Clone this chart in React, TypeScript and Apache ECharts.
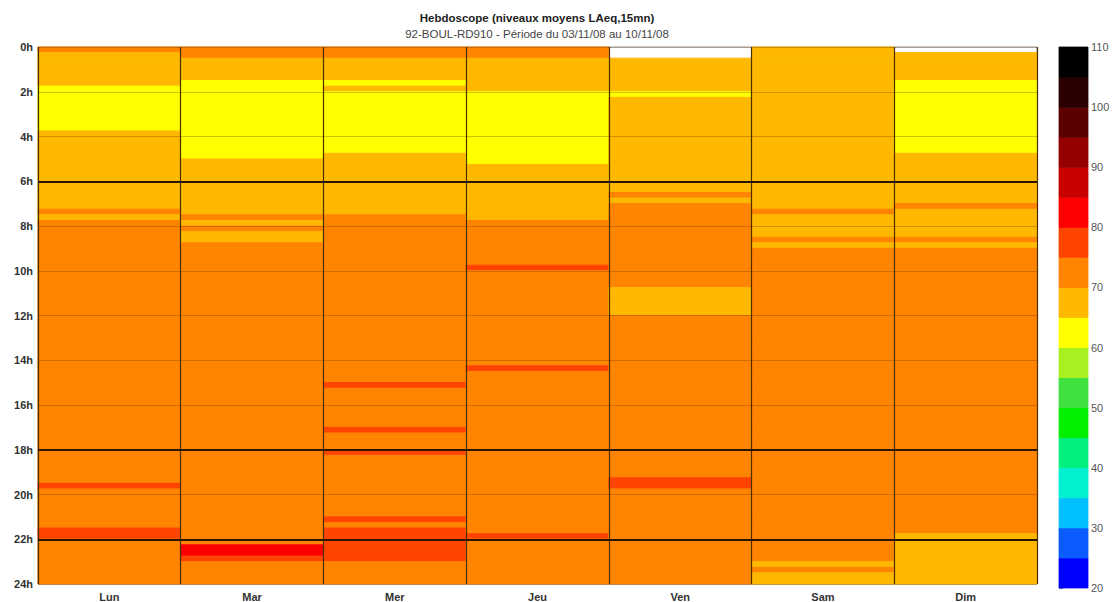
import React, { useEffect, useRef } from "react";
import * as echarts from "echarts";

const days = ["Lun", "Mar", "Mer", "Jeu", "Ven", "Sam", "Dim"];
const boldHours = [6, 18, 22];

// 15-minute LAeq levels, 96 slots per day (row = 4 hours)
const levelsLun = [
  72, 67, 67, 67, 67, 67, 67, 62, 62, 62, 62, 62, 62, 62, 62, 67,
  67, 67, 67, 67, 67, 67, 67, 67, 67, 67, 67, 67, 67, 72, 67, 72,
  72, 72, 72, 72, 72, 72, 72, 72, 72, 72, 72, 72, 72, 72, 72, 72,
  72, 72, 72, 72, 72, 72, 72, 72, 72, 72, 72, 72, 72, 72, 72, 72,
  72, 72, 72, 72, 72, 72, 72, 72, 72, 72, 72, 72, 72, 72, 77, 72,
  72, 72, 72, 72, 72, 72, 77, 77, 72, 72, 72, 72, 72, 72, 72, 72,
];
const levelsMar = [
  72, 72, 67, 67, 67, 67, 62, 62, 62, 62, 62, 62, 62, 62, 62, 62,
  62, 62, 62, 62, 67, 67, 67, 67, 67, 67, 67, 67, 67, 67, 72, 67,
  72, 67, 67, 72, 72, 72, 72, 72, 72, 72, 72, 72, 72, 72, 72, 72,
  72, 72, 72, 72, 72, 72, 72, 72, 72, 72, 72, 72, 72, 72, 72, 72,
  72, 72, 72, 72, 72, 72, 72, 72, 72, 72, 72, 72, 72, 72, 72, 72,
  72, 72, 72, 72, 72, 72, 72, 72, 72, 82, 82, 77, 72, 72, 72, 72,
];
const levelsMer = [
  72, 72, 67, 67, 67, 67, 62, 67, 62, 62, 62, 62, 62, 62, 62, 62,
  62, 62, 62, 67, 67, 67, 67, 67, 67, 67, 67, 67, 67, 67, 72, 72,
  72, 72, 72, 72, 72, 72, 72, 72, 72, 72, 72, 72, 72, 72, 72, 72,
  72, 72, 72, 72, 72, 72, 72, 72, 72, 72, 72, 72, 77, 72, 72, 72,
  72, 72, 72, 72, 77, 72, 72, 72, 77, 72, 72, 72, 72, 72, 72, 72,
  72, 72, 72, 72, 77, 72, 77, 77, 77, 77, 77, 77, 72, 72, 72, 72,
];
const levelsJeu = [
  72, 72, 67, 67, 67, 67, 67, 67, 62, 62, 62, 62, 62, 62, 62, 62,
  62, 62, 62, 62, 62, 67, 67, 67, 67, 67, 67, 67, 67, 67, 67, 72,
  72, 72, 72, 72, 72, 72, 72, 77, 72, 72, 72, 72, 72, 72, 72, 72,
  72, 72, 72, 72, 72, 72, 72, 72, 72, 77, 72, 72, 72, 72, 72, 72,
  72, 72, 72, 72, 72, 72, 72, 72, 72, 72, 72, 72, 72, 72, 72, 72,
  72, 72, 72, 72, 72, 72, 72, 77, 72, 72, 72, 72, 72, 72, 72, 72,
];
const levelsVen = [
  null, null, 67, 67, 67, 67, 67, 67, 62, 67, 67, 67, 67, 67, 67, 67,
  67, 67, 67, 67, 67, 67, 67, 67, 67, 67, 72, 67, 72, 72, 72, 72,
  72, 72, 72, 72, 72, 72, 72, 72, 72, 72, 72, 67, 67, 67, 67, 67,
  72, 72, 72, 72, 72, 72, 72, 72, 72, 72, 72, 72, 72, 72, 72, 72,
  72, 72, 72, 72, 72, 72, 72, 72, 72, 72, 72, 72, 72, 77, 77, 72,
  72, 72, 72, 72, 72, 72, 72, 72, 72, 72, 72, 72, 72, 72, 72, 72,
];
const levelsSam = [
  67, 67, 67, 67, 67, 67, 67, 67, 67, 67, 67, 67, 67, 67, 67, 67,
  67, 67, 67, 67, 67, 67, 67, 67, 67, 67, 67, 67, 67, 72, 67, 67,
  67, 67, 72, 67, 72, 72, 72, 72, 72, 72, 72, 72, 72, 72, 72, 72,
  72, 72, 72, 72, 72, 72, 72, 72, 72, 72, 72, 72, 72, 72, 72, 72,
  72, 72, 72, 72, 72, 72, 72, 72, 72, 72, 72, 72, 72, 72, 72, 72,
  72, 72, 72, 72, 72, 72, 72, 72, 72, 72, 72, 72, 67, 72, 67, 67,
];
const levelsDim = [
  null, 67, 67, 67, 67, 67, 62, 62, 62, 62, 62, 62, 62, 62, 62, 62,
  62, 62, 62, 67, 67, 67, 67, 67, 67, 67, 67, 67, 72, 67, 67, 67,
  67, 67, 72, 67, 72, 72, 72, 72, 72, 72, 72, 72, 72, 72, 72, 72,
  72, 72, 72, 72, 72, 72, 72, 72, 72, 72, 72, 72, 72, 72, 72, 72,
  72, 72, 72, 72, 72, 72, 72, 72, 72, 72, 72, 72, 72, 72, 72, 72,
  72, 72, 72, 72, 72, 72, 72, 67, 67, 67, 67, 67, 67, 67, 67, 67,
];
const levelsByDay = [levelsLun, levelsMar, levelsMer, levelsJeu, levelsVen, levelsSam, levelsDim];

// colour scale: 5 dB steps from 20 to 110
const scaleBounds = [20, 25, 30, 35, 40, 45, 50, 55, 60, 65, 70, 75, 80, 85, 90, 95, 100, 105, 110];
const scaleColors = [
  "#0000ff", "#0a5cff", "#00c0ff", "#00f0d0", "#00f080", "#00f000",
  "#40e040", "#a8f020", "#ffff00", "#ffb800", "#ff8400", "#ff4400",
  "#ff0000", "#c80000", "#940000", "#5a0000", "#2a0000", "#000000",
];

export default function App() {
  const ref = useRef<HTMLDivElement>(null);
  useEffect(() => {
    if (!ref.current) return;
    const chart = echarts.init(ref.current, null, { renderer: "svg" });

    const cells: any[] = [];
    levelsByDay.forEach((arr, d) => {
      arr.forEach((v, s) => {
        if (v !== null) cells.push([d, s / 4, v]);
      });
    });
    const pieces = scaleColors.map((c, i) => ({ gte: scaleBounds[i], lt: scaleBounds[i + 1], color: c }));
    const barData = scaleColors.map((c, i) => [scaleBounds[i], scaleBounds[i + 1], i]);

    const option: any = {
      animation: false,
      backgroundColor: "#ffffff",
      graphic: [
        {
          type: "text",
          x: 537,
          y: 18,
          style: {
            text: "Hebdoscope (niveaux moyens LAeq,15mn)",
            textAlign: "center",
            textVerticalAlign: "middle",
            font: "bold 11.5px Arial, 'Liberation Sans', sans-serif",
            fill: "#222",
          },
        },
        {
          type: "text",
          x: 537,
          y: 34,
          style: {
            text: "92-BOUL-RD910 - Période du 03/11/08 au 10/11/08",
            textAlign: "center",
            textVerticalAlign: "middle",
            font: "11.5px Arial, 'Liberation Sans', sans-serif",
            fill: "#444",
          },
        },
      ],
      visualMap: {
        type: "piecewise",
        show: false,
        seriesIndex: 0,
        dimension: 2,
        pieces,
      },
      grid: [
        { left: 38, top: 47, width: 999, height: 538, show: true, borderColor: "#999", borderWidth: 1 },
        { left: 1059, top: 47, width: 29, height: 541 },
      ],
      xAxis: [
        {
          type: "category",
          gridIndex: 0,
          data: days,
          boundaryGap: true,
          axisLine: { show: false },
          axisTick: { show: false },
          axisLabel: { margin: 7, fontSize: 11, fontWeight: "bold", color: "#333", fontFamily: "Arial" },
          splitLine: { show: true, interval: 0, lineStyle: { color: "#4a3000", width: 1.2 } },
          z: 10,
        },
        {
          type: "value",
          gridIndex: 1,
          min: 0,
          max: 1,
          show: false,
        },
      ],
      yAxis: [
        {
          type: "value",
          gridIndex: 0,
          min: 0,
          max: 24,
          interval: 2,
          inverse: true,
          axisLine: { show: false },
          axisTick: { show: false },
          axisLabel: {
            formatter: "{value}h",
            margin: 5,
            fontSize: 11,
            fontWeight: "bold",
            color: "#333",
            fontFamily: "Arial",
          },
          splitLine: { show: true, lineStyle: { color: "rgba(90,40,0,0.28)", width: 1 } },
          z: 10,
        },
        {
          type: "value",
          gridIndex: 1,
          min: 20,
          max: 110,
          interval: 10,
          position: "right",
          axisLine: { show: false },
          axisTick: { show: true, length: 4, lineStyle: { color: "#777" } },
          axisLabel: { margin: 3, fontSize: 11, color: "#555", fontFamily: "Arial" },
          splitLine: { show: false },
        },
      ],
      series: [
        {
          type: "custom",
          xAxisIndex: 0,
          yAxisIndex: 0,
          data: cells,
          encode: { x: 0, y: 1 },
          renderItem: (params: any, api: any) => {
            const d = api.value(0);
            const t = api.value(1);
            const p0 = api.coord([d, t]);
            const p1 = api.coord([d, t + 0.25]);
            const w = api.size([1, 0])[0];
            const c = api.visual("color");
            return {
              type: "rect",
              shape: { x: p0[0] - w / 2, y: p0[1], width: w, height: p1[1] - p0[1] },
              style: { fill: c, stroke: c, lineWidth: 1 },
            };
          },
          markLine: {
            silent: true,
            symbol: "none",
            label: { show: false },
            lineStyle: { color: "#2a1500", width: 2, type: "solid" },
            data: boldHours.map((h) => ({ yAxis: h })),
            z: 20,
          },
          z: 2,
        },
        {
          type: "custom",
          xAxisIndex: 1,
          yAxisIndex: 1,
          data: barData,
          encode: { y: [0, 1] },
          renderItem: (params: any, api: any) => {
            const lo = api.value(0);
            const hi = api.value(1);
            const idx = api.value(2);
            const y0 = api.coord([0, lo])[1];
            const y1 = api.coord([0, hi])[1];
            const cs = params.coordSys;
            return {
              type: "rect",
              shape: { x: cs.x, y: y1, width: cs.width, height: y0 - y1 },
              style: { fill: scaleColors[idx], stroke: scaleColors[idx], lineWidth: 0.8 },
            };
          },
        },
      ],
    };
    chart.setOption(option);
    return () => chart.dispose();
  }, []);
  return (
    <div
      ref={ref}
      style={{ position: "fixed", left: 0, top: 0, width: 1118, height: 602, background: "#fff" }}
    />
  );
}
